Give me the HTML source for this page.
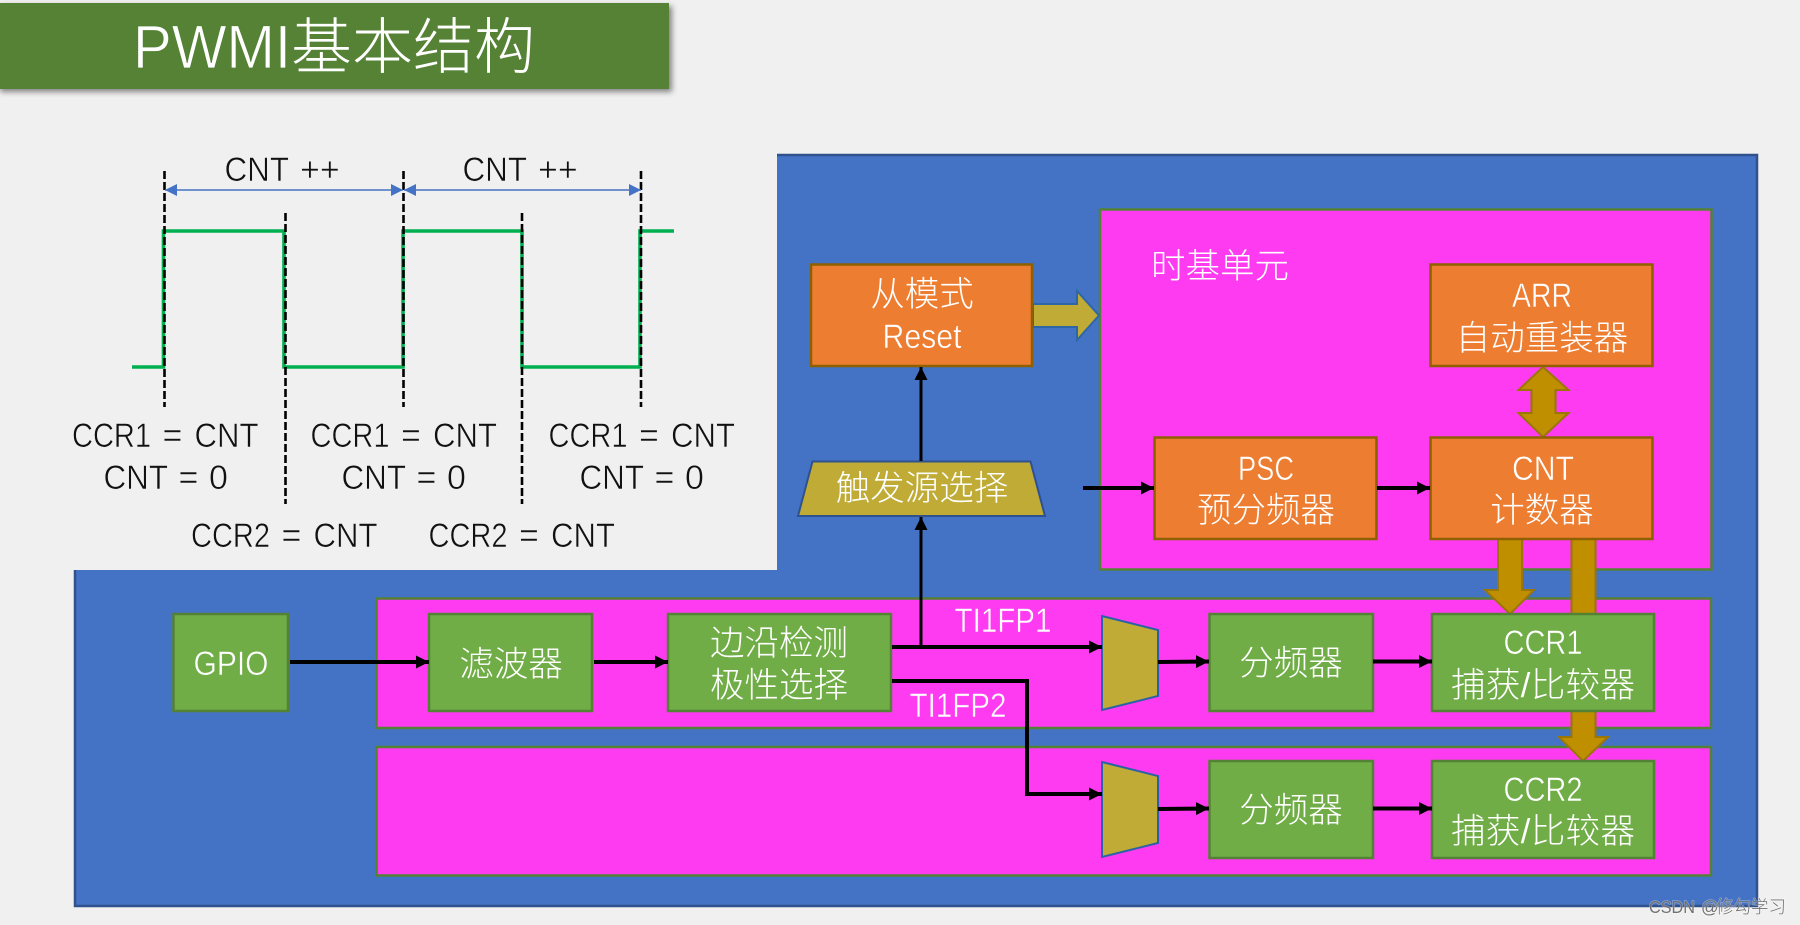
<!DOCTYPE html>
<html lang="zh">
<head>
<meta charset="utf-8">
<title>PWMI基本结构</title>
<style>
html,body{margin:0;padding:0;width:1800px;height:925px;overflow:hidden;background:#f0f0f0}
svg{display:block}
text{font-family:"Liberation Sans","Noto Sans CJK SC",sans-serif;font-weight:300}
.w{fill:#fff;font-size:34.5px;text-anchor:middle}
.l{font-size:34px}
.lo{stroke:#ed7d31;stroke-width:.5}
.lg{stroke:#70ad47;stroke-width:.5}
.lm{stroke:#ff3bf2;stroke-width:.5}
.k{fill:#111;font-size:34px;stroke:#f0f0f0;stroke-width:.55}
.o{fill:#ed7d31;stroke:#8f6000;stroke-width:2.5}
.g{fill:#70ad47;stroke:#548235;stroke-width:2.5}
.m{fill:#ff3bf2;stroke:#548235;stroke-width:2.5}
.t{fill:#bfab35;stroke:#2a63a5;stroke-width:2}
.b{fill:#bf8f00;stroke:#9a7608;stroke-width:2}
.a{stroke:#000;fill:none;stroke-width:4}
.d{stroke:#000;stroke-width:2.6;stroke-dasharray:8 3;fill:none}
</style>
</head>
<body>
<svg width="1800" height="925" viewBox="0 0 1800 925" xmlns="http://www.w3.org/2000/svg">
<defs>
<filter id="sh" x="-5%" y="-20%" width="110%" height="150%"><feDropShadow dx="3" dy="3" stdDeviation="3" flood-color="#000" flood-opacity=".45"/></filter>
<marker id="ar" markerUnits="userSpaceOnUse" markerWidth="14" markerHeight="14" refX="13" refY="6.5" orient="auto"><path d="M0 0L13 6.5L0 13Z" fill="#000"/></marker>
<marker id="bl" markerUnits="userSpaceOnUse" markerWidth="13" markerHeight="12" refX="12" refY="6" orient="auto-start-reverse"><path d="M0 0L12 6L0 12Z" fill="#4472c4"/></marker>
</defs>

<rect width="1800" height="925" fill="#f0f0f0"/>

<!-- main blue background -->
<rect x="75" y="155" width="1682" height="751" fill="#4472c4" stroke="#2f528f" stroke-width="2.5"/>
<rect x="0" y="0" width="777" height="570" fill="#f0f0f0"/>

<!-- title -->
<rect x="-3" y="3" width="672" height="86" fill="#548235" filter="url(#sh)"/>
<text x="133" y="68" fill="#fff" font-size="61"><tspan textLength="158" lengthAdjust="spacingAndGlyphs" stroke="#548235" stroke-width=".8">PWMI</tspan><tspan x="291">基本结构</tspan></text>

<!-- waveform -->
<path d="M132 367H163.500V231H284V367H403V231H522V367H640V231H674" fill="none" stroke="#00b050" stroke-width="3.6"/>
<line class="d" x1="164.500" y1="171" x2="164.500" y2="407"/>
<line class="d" x1="403.500" y1="171" x2="403.500" y2="407"/>
<line class="d" x1="641" y1="171" x2="641" y2="407"/>
<line class="d" x1="285.500" y1="213" x2="285.500" y2="504"/>
<line class="d" x1="522" y1="213" x2="522" y2="504"/>
<line x1="165" y1="190" x2="403" y2="190" stroke="#4472c4" stroke-width="1.5" marker-start="url(#bl)" marker-end="url(#bl)"/>
<line x1="404" y1="190" x2="641" y2="190" stroke="#4472c4" stroke-width="1.5" marker-start="url(#bl)" marker-end="url(#bl)"/>

<text class="k" y="181"><tspan x="224.500" textLength="64" lengthAdjust="spacingAndGlyphs">CNT</tspan> <tspan x="300">++</tspan></text>
<text class="k" y="181"><tspan x="462.500" textLength="64" lengthAdjust="spacingAndGlyphs">CNT</tspan> <tspan x="538">++</tspan></text>

<text class="k" y="447"><tspan x="72" textLength="79" lengthAdjust="spacingAndGlyphs">CCR1</tspan> <tspan x="162.500">=</tspan> <tspan x="194.500" textLength="64" lengthAdjust="spacingAndGlyphs">CNT</tspan></text>
<text class="k" y="447"><tspan x="310.500" textLength="79" lengthAdjust="spacingAndGlyphs">CCR1</tspan> <tspan x="401">=</tspan> <tspan x="433" textLength="64" lengthAdjust="spacingAndGlyphs">CNT</tspan></text>
<text class="k" y="447"><tspan x="548.500" textLength="79" lengthAdjust="spacingAndGlyphs">CCR1</tspan> <tspan x="639">=</tspan> <tspan x="671" textLength="64" lengthAdjust="spacingAndGlyphs">CNT</tspan></text>

<text class="k" y="489"><tspan x="103.500" textLength="64" lengthAdjust="spacingAndGlyphs">CNT</tspan> <tspan x="178.500">=</tspan> <tspan x="209">0</tspan></text>
<text class="k" y="489"><tspan x="341.500" textLength="64" lengthAdjust="spacingAndGlyphs">CNT</tspan> <tspan x="416.500">=</tspan> <tspan x="447">0</tspan></text>
<text class="k" y="489"><tspan x="579.500" textLength="64" lengthAdjust="spacingAndGlyphs">CNT</tspan> <tspan x="654.500">=</tspan> <tspan x="685">0</tspan></text>

<text class="k" y="547"><tspan x="191" textLength="79" lengthAdjust="spacingAndGlyphs">CCR2</tspan> <tspan x="281.500">=</tspan> <tspan x="313.500" textLength="64" lengthAdjust="spacingAndGlyphs">CNT</tspan></text>
<text class="k" y="547"><tspan x="428.500" textLength="79" lengthAdjust="spacingAndGlyphs">CCR2</tspan> <tspan x="519">=</tspan> <tspan x="551" textLength="64" lengthAdjust="spacingAndGlyphs">CNT</tspan></text>

<!-- magenta panels -->
<rect class="m" x="1100" y="209.500" width="611.500" height="360"/>
<rect class="m" x="376.500" y="598.500" width="1334.500" height="129.500"/>
<rect class="m" x="376.500" y="747" width="1334.500" height="128.500"/>

<!-- gold block arrows -->
<path class="b" d="M1498 538V590H1485L1510 614L1534 590H1522V538Z"/>
<path class="b" d="M1571.500 538V737H1559L1583 761L1608 737H1595.500V538Z"/>
<path class="b" d="M1543 367L1568.500 390H1555.500V413H1568.500L1543 437L1518.500 413H1531.500V390H1518.500Z"/>
<path d="M1033 304H1077V291L1099 315.500L1077 340V327H1033Z" fill="#bfab35" stroke="#2f66a8" stroke-width="2"/>

<!-- orange boxes -->
<rect class="o" x="811" y="264.500" width="221" height="101.500"/>
<rect class="o" x="1430.500" y="264.500" width="222" height="101.500"/>
<rect class="o" x="1154.500" y="437.500" width="222" height="101.500"/>
<rect class="o" x="1430.500" y="437.500" width="222" height="101.500"/>

<!-- trigger trapezoid -->
<path d="M812.500 461.500H1030.500L1045 516H798Z" fill="#bfab35" stroke="#2f528f" stroke-width="2"/>

<!-- green boxes -->
<rect class="g" x="173.500" y="614" width="114.500" height="97"/>
<rect class="g" x="429" y="614" width="163" height="97"/>
<rect class="g" x="668" y="614" width="223" height="97"/>
<rect class="g" x="1209.500" y="614" width="163.500" height="97"/>
<rect class="g" x="1432" y="614" width="222" height="97"/>
<rect class="g" x="1209.500" y="761" width="163.500" height="97"/>
<rect class="g" x="1432" y="761" width="222" height="97"/>

<!-- mux trapezoids -->
<path class="t" d="M1102 616L1158 630V696L1102 710Z"/>
<path class="t" d="M1102 762L1158 776V843L1102 857Z"/>

<!-- black connectors -->
<line class="a" x1="290" y1="662" x2="429" y2="662" marker-end="url(#ar)"/>
<line class="a" x1="594" y1="662" x2="668" y2="662" marker-end="url(#ar)"/>
<line class="a" x1="892" y1="647" x2="1102" y2="647" marker-end="url(#ar)"/>
<line class="a" x1="921" y1="647" x2="921" y2="517" style="stroke-width:3" marker-end="url(#ar)"/>
<line class="a" x1="921" y1="461" x2="921" y2="367" style="stroke-width:3" marker-end="url(#ar)"/>
<path class="a" d="M892 681H1027V794H1102" marker-end="url(#ar)"/>
<line class="a" x1="1158" y1="662" x2="1209" y2="661.500" marker-end="url(#ar)"/>
<line class="a" x1="1158" y1="809" x2="1209" y2="808.500" marker-end="url(#ar)"/>
<line class="a" x1="1373" y1="661.500" x2="1432" y2="661.500" marker-end="url(#ar)"/>
<line class="a" x1="1373" y1="808.500" x2="1432" y2="808.500" marker-end="url(#ar)"/>
<line class="a" x1="1083" y1="488" x2="1154" y2="488" marker-end="url(#ar)"/>
<line class="a" x1="1377" y1="488" x2="1430" y2="488" marker-end="url(#ar)"/>

<!-- labels -->
<text class="w" x="1220" y="278">时基单元</text>
<text class="w" x="922" y="306">从模式</text>
<text class="w l lo" x="922" y="348" textLength="79" lengthAdjust="spacingAndGlyphs">Reset</text>
<text class="w l lo" x="1542" y="307" textLength="60" lengthAdjust="spacingAndGlyphs">ARR</text>
<text class="w" x="1542" y="350">自动重装器</text>
<text class="w l lo" x="1266" y="480" textLength="56" lengthAdjust="spacingAndGlyphs">PSC</text>
<text class="w" x="1266" y="522">预分频器</text>
<text class="w l lo" x="1543" y="480" textLength="62" lengthAdjust="spacingAndGlyphs">CNT</text>
<text class="w" x="1542" y="522">计数器</text>
<text class="w" x="922" y="500">触发源选择</text>
<text class="w l lg" x="231" y="675" textLength="75" lengthAdjust="spacingAndGlyphs">GPIO</text>
<text class="w" x="511" y="676">滤波器</text>
<text class="w" x="779" y="655">边沿检测</text>
<text class="w" x="779" y="697">极性选择</text>
<text class="w l lm" x="1003" y="632" textLength="97" lengthAdjust="spacingAndGlyphs">TI1FP1</text>
<text class="w l lm" x="958" y="717" textLength="97" lengthAdjust="spacingAndGlyphs">TI1FP2</text>
<text class="w" x="1291" y="675">分频器</text>
<text class="w" x="1291" y="822">分频器</text>
<text class="w l lg" x="1543" y="654" textLength="79" lengthAdjust="spacingAndGlyphs">CCR1</text>
<text class="w" x="1543" y="697" textLength="184" lengthAdjust="spacing">捕获/比较器</text>
<text class="w l lg" x="1543" y="801" textLength="79" lengthAdjust="spacingAndGlyphs">CCR2</text>
<text class="w" x="1543" y="843" textLength="184" lengthAdjust="spacing">捕获/比较器</text>

<!-- watermark -->
<text y="913" font-size="17.500" fill="#707070" stroke="#fff" stroke-opacity=".35" stroke-width="1.500" paint-order="stroke"><tspan x="1649" textLength="46" lengthAdjust="spacingAndGlyphs">CSDN</tspan> <tspan x="1701">@</tspan><tspan x="1716">修勾学习</tspan></text>
</svg>
</body>
</html>
